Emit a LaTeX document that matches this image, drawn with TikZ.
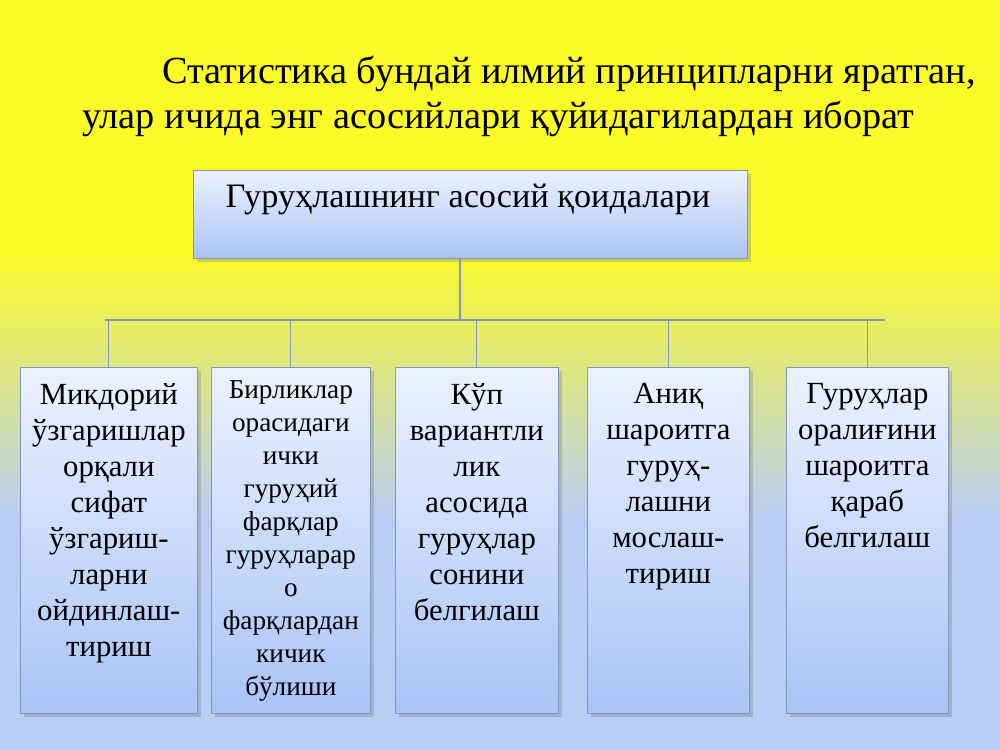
\documentclass[tikz,border=0pt]{standalone}
\usepackage{fontspec}
\setmainfont{Liberation Serif}
\usetikzlibrary{positioning,shadows}
\definecolor{bgyel}{RGB}{250,250,40}
\definecolor{bgblu}{RGB}{185,205,245}
\definecolor{boxtop}{RGB}{235,242,255}
\definecolor{boxbot}{RGB}{170,195,245}
\definecolor{edgeblu}{RGB}{130,150,190}
\tikzset{gbox/.style={draw=edgeblu, top color=boxtop, bottom color=boxbot, drop shadow={opacity=0.35}, inner sep=0pt},
link/.style={draw=edgeblu, line width=0.6pt}}
\begin{document}
\begin{tikzpicture}[x=0.02cm,y=-0.02cm]
  \fill[bgyel] (0,0) rectangle (1000,250);
  \shade[top color=bgyel, bottom color=bgblu] (0,250) rectangle (1000,520);
  \fill[bgblu] (0,520) rectangle (1000,750);
  \useasboundingbox (0,0) rectangle (1000,750);

  \node[align=left, font=\fontsize{21.8}{25.6}\selectfont, anchor=north west] (title) at (76,50)
    {\hspace*{2.1em}Статистика бундай илмий принципларни яратган,\\улар ичида энг асосийлари қуйидагилардан иборат};

  \node[gbox, minimum width=554*0.02cm, minimum height=88*0.02cm, anchor=north west] (top) at (193,170) {};
  \node[font=\fontsize{19.5}{22}\selectfont, anchor=north] at (468,178) {Гуруҳлашнинг асосий қоидалари};

  \node[gbox, minimum width=177*0.02cm, minimum height=346*0.02cm, anchor=north west] (b1) at (20,367) {};
  \node[gbox, minimum width=159*0.02cm, minimum height=346*0.02cm, anchor=north west] (b2) at (211,367) {};
  \node[gbox, minimum width=163*0.02cm, minimum height=346*0.02cm, anchor=north west] (b3) at (395,367) {};
  \node[gbox, minimum width=162*0.02cm, minimum height=346*0.02cm, anchor=north west] (b4) at (587,367) {};
  \node[gbox, minimum width=162*0.02cm, minimum height=346*0.02cm, anchor=north west] (b5) at (786,367) {};

  \node[font=\fontsize{17.5}{20.5}\selectfont, anchor=north, align=center] at ([yshift=-0.2cm]b1.north)
    {Микдорий\\ўзгаришлар\\орқали\\сифат\\ўзгариш-\\ларни\\ойдинлаш-\\тириш};
  \node[font=\fontsize{15.5}{18.8}\selectfont, anchor=north, align=center] at ([yshift=-0.15cm]b2.north)
    {Бирликлар\\орасидаги\\ички\\гуруҳий\\фарқлар\\гуруҳларар\\о\\фарқлардан\\кичик\\бўлиши};
  \node[font=\fontsize{17.5}{20.5}\selectfont, anchor=north, align=center] at ([yshift=-0.2cm]b3.north)
    {Кўп\\вариантли\\лик\\асосида\\гуруҳлар\\сонини\\белгилаш};
  \node[font=\fontsize{17.5}{20.5}\selectfont, anchor=north, align=center] at ([yshift=-0.2cm]b4.north)
    {Аниқ\\шароитга\\гуруҳ-\\лашни\\мослаш-\\тириш};
  \node[font=\fontsize{17.5}{20.5}\selectfont, anchor=north, align=center] at ([yshift=-0.2cm]b5.north)
    {Гуруҳлар\\оралиғини\\шароитга\\қараб\\белгилаш};

  \coordinate (hub) at (460,320);
  \draw[link] (460,258) -- (hub);
  \draw[link] (105,320) -- (885,320);
  \foreach \b in {b1,b2,b3,b4,b5}
    \draw[link] (\b.north |- hub) -- (\b.north);
\end{tikzpicture}
\end{document}
